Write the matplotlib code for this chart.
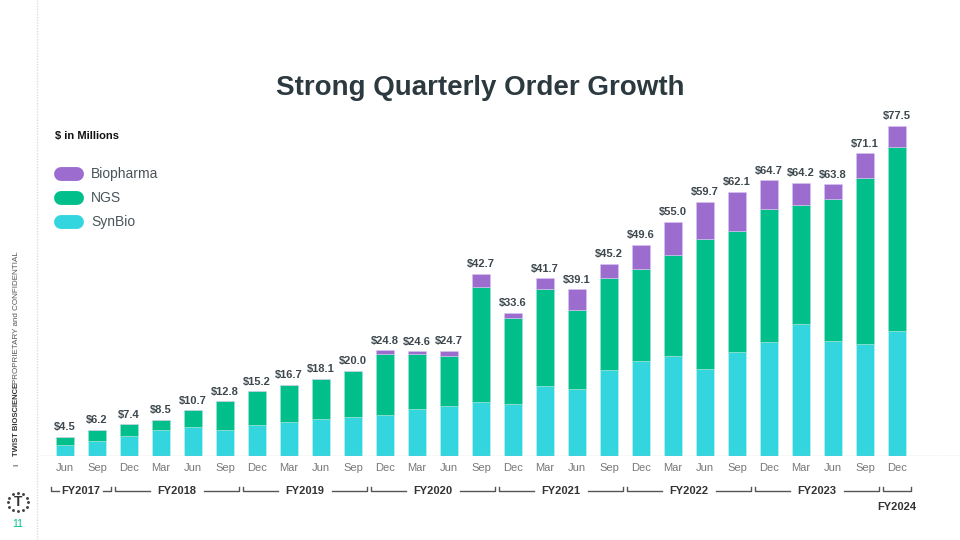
import numpy as np
import matplotlib.pyplot as plt

plt.rcParams['font.family'] = ['Liberation Sans', 'DejaVu Sans']

# Quarter labels and fiscal-year groups
quarters = ["Jun", "Sep", "Dec", "Mar", "Jun", "Sep", "Dec", "Mar", "Jun", "Sep",
            "Dec", "Mar", "Jun", "Sep", "Dec", "Mar", "Jun", "Sep", "Dec", "Mar",
            "Jun", "Sep", "Dec", "Mar", "Jun", "Sep", "Dec"]
fy_names = ["FY2017", "FY2018", "FY2019", "FY2020", "FY2021", "FY2022", "FY2023", "FY2024"]
fy_first = [0, 2, 6, 10, 14, 18, 22, 26]
fy_last = [1, 5, 9, 13, 17, 21, 25, 26]

# Orders in $M (segments, totals as labelled)
synbio = [2.5, 3.5, 4.6, 6.0, 6.7, 6.2, 7.2, 8.1, 8.8, 9.2,
          9.6, 11.0, 11.8, 12.6, 12.1, 16.4, 15.7, 20.1, 22.3, 23.5,
          20.5, 24.5, 26.7, 30.9, 27.0, 26.2, 29.4]
ngs = [2.0, 2.7, 2.8, 2.5, 4.0, 6.6, 8.0, 8.6, 9.3, 10.8,
       14.4, 12.9, 11.7, 27.1, 20.4, 22.7, 18.6, 21.8, 21.7, 23.7,
       30.4, 28.3, 31.2, 28.0, 33.3, 39.1, 43.2]
totals = [4.5, 6.2, 7.4, 8.5, 10.7, 12.8, 15.2, 16.7, 18.1, 20.0,
          24.8, 24.6, 24.7, 42.7, 33.6, 41.7, 39.1, 45.2, 49.6, 55.0,
          59.7, 62.1, 64.7, 64.2, 63.8, 71.1, 77.5]

synbio = np.array(synbio)
ngs = np.array(ngs)
totals = np.array(totals)
biopharma = np.clip(totals - synbio - ngs, 0, None)

c_bio = "#9c6dcf"
c_ngs = "#00bf8a"
c_syn = "#33d6de"
dark = "#2c3a40"

fig = plt.figure(figsize=(9.6, 5.4), dpi=100)
ax = fig.add_axes([40 / 960, 84 / 540, 920 / 960, 356 / 540])

x = np.arange(len(quarters))
w = 0.56
ax.bar(x, synbio, w, color=c_syn, edgecolor="#c8f3f5", linewidth=0.4)
ax.bar(x, ngs, w, bottom=synbio, color=c_ngs, edgecolor="#9fe6cf", linewidth=0.4)
ax.bar(x, biopharma, w, bottom=synbio + ngs, color=c_bio, edgecolor="#d9c6ef", linewidth=0.4)

for xi, t in zip(x, totals):
    ax.text(xi, t + 1.1, f"${t:.1f}", ha="center", va="bottom", fontsize=8,
            fontweight="bold", color="#3d484e")

ax.set_xlim(-0.78, 27.97)
ax.set_ylim(0, 83.6)
ax.axhline(0, color="#bbbbbb", linewidth=1, linestyle=(0, (1, 1)))
for s in ax.spines.values():
    s.set_visible(False)
ax.set_yticks([])
ax.set_xticks(x)
ax.set_xticklabels(quarters, fontsize=8, color="#777777")
ax.tick_params(axis="x", length=0, pad=5)

# fiscal-year brackets under the quarter labels
trans = ax.get_xaxis_transform()
yb = -0.098
tick_h = 0.012
for name, a, b in zip(fy_names, fy_first, fy_last):
    x0, x1 = a - 0.45, b + 0.45
    mid = (x0 + x1) / 2
    if name == "FY2024":
        ax.plot([x0, x0, x1, x1], [yb + tick_h, yb, yb, yb + tick_h], color="#555555",
                lw=1, transform=trans, clip_on=False)
        ax.text(mid, yb - 0.045, name, ha="center", va="center", fontsize=8,
                fontweight="bold", color="#333333", transform=trans)
        continue
    gap = 0.68 if name == "FY2017" else 0.85
    ax.plot([x0, x0, mid - gap], [yb + tick_h, yb, yb], color="#555555", lw=1,
            transform=trans, clip_on=False)
    ax.plot([mid + gap, x1, x1], [yb, yb, yb + tick_h], color="#555555", lw=1,
            transform=trans, clip_on=False)
    ax.text(mid, yb, name, ha="center", va="center", fontsize=8,
            fontweight="bold", color="#333333", transform=trans)

# title and legend
fig.text(0.5, 1 - 88 / 540, "Strong Quarterly Order Growth", ha="center", va="center",
         fontsize=20, fontweight="bold", color=dark)
fig.text(55 / 960, 1 - 136 / 540, "$ in Millions", ha="left", va="center",
         fontsize=8, fontweight="bold", color="#111111")
for i, (lab, col) in enumerate([("Biopharma", c_bio), ("NGS", c_ngs), ("SynBio", c_syn)]):
    yc = 1 - (174 + 24 * i) / 540
    fig.add_artist(plt.Line2D([61 / 960, 77 / 960], [yc, yc], lw=10, color=col,
                              solid_capstyle="round", transform=fig.transFigure))
    fig.text(91 / 960, yc, lab, ha="left", va="center", fontsize=10, color="#4a5459")

# left sidebar
fig.add_artist(plt.Line2D([37 / 960, 37 / 960], [0, 1], color="#dddddd", lw=1,
                          linestyle=(0, (1, 1)), transform=fig.transFigure))
fig.text(17 / 960, 1 - 466 / 540, "I", rotation=90, ha="center", va="bottom",
         fontsize=6, color="#333333")
fig.text(17 / 960, 1 - 456 / 540, "TWIST BIOSCIENCE", rotation=90, ha="center",
         va="bottom", fontsize=5.5, fontweight="bold", color="#333333")
fig.text(17 / 960, 1 - 384 / 540, "PROPRIETARY and CONFIDENTIAL", rotation=90,
         ha="center", va="bottom", fontsize=5.8, color="#555555")
fig.text(18 / 960, 1 - 502 / 540, "T", ha="center", va="center", fontsize=10,
         fontweight="bold", color="#333333")
ang = np.linspace(0, 2 * np.pi, 13)[:-1]
fig.add_artist(plt.Line2D(18 / 960 + 10 / 960 * np.cos(ang), 1 - 502 / 540 + 9 / 540 * np.sin(ang),
                          lw=0, marker="o", markersize=1.1, color="#444444",
                          transform=fig.transFigure))
fig.text(18 / 960, 1 - 524 / 540, "11", ha="center", va="center", fontsize=7.5,
         color="#00bf8a")

fig.savefig("out.png", dpi=100)
